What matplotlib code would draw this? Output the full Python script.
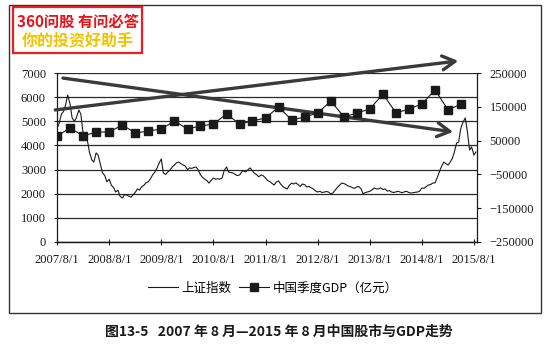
import matplotlib.pyplot as plt
import matplotlib.dates as mdates
from matplotlib.patches import Rectangle
import pandas as pd

plt.rcParams['font.family'] = ['Noto Sans CJK SC', 'DejaVu Sans']

# --- 上证指数：2007/8/1 起，每半月一个点（1日、15日）---
sse_start = '2007-08-01'
sse_values = [
    4720, 4900, 5300, 5400, 5700, 6090, 5700, 5140, 5000, 5150,              # 2007
    5470, 5300, 4430, 4500, 4200, 3730, 3400, 3310, 3690, 3600, 3190, 2860,  # 2008
    2750, 2490, 2600, 2360, 2250, 2070, 2150, 1900, 1820, 1950, 1950, 1900,
    1860, 1950, 2070, 2200, 2150, 2280, 2350, 2450, 2490, 2600, 2780, 2880,  # 2009
    3050, 3250, 3440, 2860, 2800, 2900, 2980, 3100, 3190, 3280, 3310, 3250,
    3190, 3150, 3000, 3070, 3050, 3080, 3110, 3000, 2800, 2690, 2600, 2550,  # 2010
    2440, 2550, 2650, 2600, 2620, 2600, 2650, 2950, 3110, 2900, 2880, 2860,
    2800, 2750, 2780, 2900, 2950, 2900, 3000, 3070, 2950, 2850, 2780, 2700,  # 2011
    2780, 2750, 2650, 2550, 2500, 2430, 2360, 2480, 2530, 2400, 2300, 2240,
    2200, 2350, 2440, 2400, 2450, 2380, 2300, 2400, 2380, 2280, 2300, 2250,  # 2012
    2200, 2120, 2070, 2100, 2050, 2070, 2090, 2070, 1990, 2030, 2150, 2250,
    2350, 2440, 2420, 2380, 2320, 2300, 2250, 2220, 2280, 2300, 2200, 1990,  # 2013
    2050, 2070, 2100, 2150, 2240, 2200, 2200, 2240, 2180, 2200, 2110, 2130,
    2070, 2050, 2080, 2100, 2070, 2040, 2080, 2100, 2050, 2030, 2040, 2060,  # 2014
    2070, 2100, 2240, 2220, 2300, 2360, 2380, 2440, 2450, 2650, 2900, 3110,
    3310, 3250, 3190, 3310, 3450, 3690, 4100, 4140, 4720, 4950, 5140, 4600,  # 2015
    3810, 3940, 3600, 3730,
]

# --- 中国季度GDP（亿元），按季度 ---
gdp_start = '2007-08-01'
gdp_values = [
    63600, 87300, 63600, 75400, 75400, 96200, 72500, 78400,
    84300, 108000, 84300, 93200, 99100, 128700, 99100, 108000,
    116900, 149400, 111000, 119800, 131600, 167100, 119800, 131600,
    143500, 187900, 131600, 143500, 158300, 199700, 140500, 158300,
]

left_ticks = [0, 1000, 2000, 3000, 4000, 5000, 6000, 7000]
right_ticks = [-250000, -150000, -50000, 50000, 150000, 250000]
year_ticks = pd.date_range('2007-08-01', '2015-08-01', freq='12MS')

sse_dates = pd.date_range(sse_start, periods=len(sse_values), freq='SMS')
gdp_dates = pd.date_range(gdp_start, periods=len(gdp_values), freq='3MS')

tick_font = 'Liberation Serif'
ink = '#1a1a1a'

fig = plt.figure(figsize=(5.54, 3.48), dpi=100)
ax = fig.add_axes([0.1029, 0.3046, 0.7581, 0.4856])
ax2 = ax.twinx()

# --- 上证指数（左轴）---
line_sse, = ax.plot(sse_dates, sse_values, color=ink, lw=0.8, label='上证指数')
ax.set_ylim(0, 7000)
ax.set_yticks(left_ticks)
ax.yaxis.grid(True, color='#2a2a2a', lw=0.9)
ax.set_axisbelow(True)

# --- 季度GDP（右轴）---
line_gdp, = ax2.plot(gdp_dates, gdp_values, color=ink, lw=0.8, marker='s',
                     markersize=6, markerfacecolor=ink, markeredgecolor=ink,
                     label='中国季度GDP（亿元）')
ax2.set_ylim(-250000, 250000)
ax2.set_yticks(right_ticks)

ax.set_xlim(pd.Timestamp('2007-08-01'), pd.Timestamp('2015-08-22'))
ax.set_xticks(year_ticks)
ax.set_xticklabels([f'{d.year}/{d.month}/{d.day}' for d in year_ticks])

for a in (ax, ax2):
    a.spines['top'].set_visible(False)
    for s in ('left', 'right', 'bottom'):
        a.spines[s].set_color(ink)
        a.spines[s].set_linewidth(0.9)
ax.spines['right'].set_visible(False)
ax2.spines['left'].set_visible(False)

ax.tick_params(axis='y', direction='inout', length=4, width=0.8, pad=6,
               labelsize=9, labelfontfamily=tick_font, colors=ink)
ax.tick_params(axis='x', direction='inout', length=4, width=0.8, pad=7,
               labelsize=9, labelfontfamily=tick_font, colors=ink)
ax2.tick_params(axis='y', direction='out', length=3, width=0.8, pad=6,
                labelsize=9, labelfontfamily=tick_font, colors=ink)

# --- 两条趋势箭头 ---
arrow_kw = dict(arrowstyle='->, head_length=0.9, head_width=0.5',
                color='#3a3a3a', lw=2.4, shrinkA=0, shrinkB=0)
ax.annotate('', xy=(mdates.date2num(pd.Timestamp('2015-04-13')), 7500),
            xytext=(mdates.date2num(pd.Timestamp('2007-07-20')), 5470),
            arrowprops=arrow_kw, annotation_clip=False, zorder=5)
ax.annotate('', xy=(mdates.date2num(pd.Timestamp('2015-03-08')), 4560),
            xytext=(mdates.date2num(pd.Timestamp('2007-09-12')), 6790),
            arrowprops=arrow_kw, annotation_clip=False, zorder=5)

# --- 图例 ---
fig.legend(handles=[line_sse, line_gdp], loc='center', ncol=2,
           bbox_to_anchor=(0.492, 0.172), frameon=False, fontsize=9,
           handlelength=2.4, handletextpad=0.3, columnspacing=0.6)

# --- 外框 ---
fig.patches.append(Rectangle((0.0162, 0.1006), 0.9603, 0.885,
                             transform=fig.transFigure, fill=False,
                             edgecolor='#333333', lw=1.0))

# --- 左上角标签 ---
fig.patches.append(Rectangle((0.0235, 0.8477), 0.2329, 0.1322,
                             transform=fig.transFigure, facecolor='white',
                             edgecolor='#ee1c25', lw=1.6, zorder=3))
fig.text(0.14, 0.937, '360问股 有问必答', color='#e8141b', fontsize=11,
         fontweight='bold', ha='center', va='center', zorder=4)
fig.text(0.14, 0.885, '你的投资好助手', color='#f2c300', fontsize=11.5,
         fontweight='bold', ha='center', va='center', zorder=4)

# --- 图题 ---
fig.text(0.504, 0.046, '图13-5   2007 年 8 月—2015 年 8 月中国股市与GDP走势',
         fontsize=10, fontweight='bold', color=ink, ha='center', va='center')

fig.savefig('out.png', dpi=100)
